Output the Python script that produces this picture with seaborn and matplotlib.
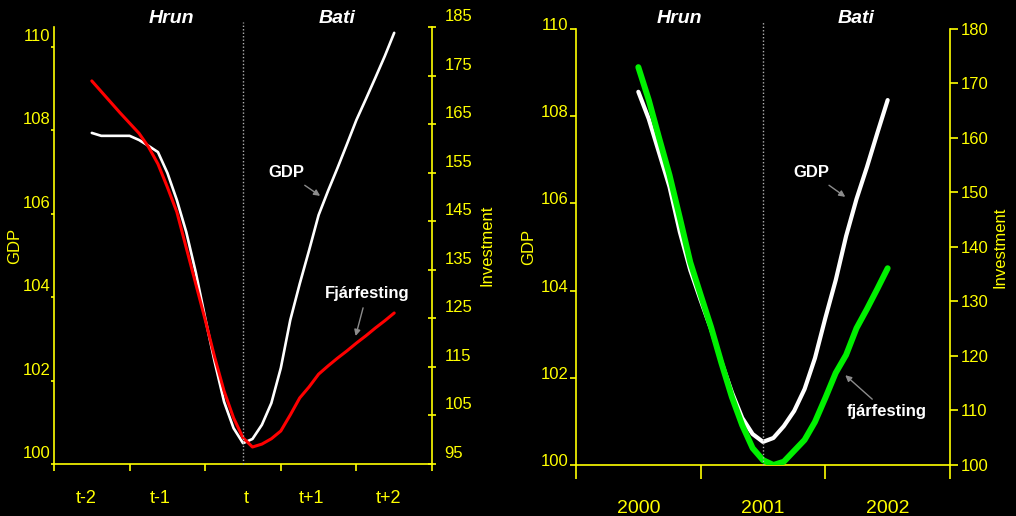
import numpy as np
import matplotlib
matplotlib.use('Agg')
import matplotlib.pyplot as plt
import matplotlib.transforms as mtrans
import seaborn as sns

# left panel: path from t-2 to t+2, eight steps per period
left_x = 0.5 + 0.125 * np.arange(33)
left_gdp = [107.94, 107.87, 107.87, 107.87, 107.87, 107.77, 107.63, 107.48, 106.98,
            106.33, 105.56, 104.60, 103.50, 102.45, 101.49, 100.86, 100.50, 100.60,
            100.94, 101.46, 102.30, 103.45, 104.32, 105.13, 105.97, 106.55, 107.10,
            107.67, 108.25, 108.75, 109.26, 109.78, 110.34]
left_inv = [173.9, 171.7, 169.5, 167.3, 165.2, 163.1, 160.3, 156.8, 152.0,
            146.9, 139.5, 132.1, 124.7, 117.0, 110.0, 104.5, 100.4, 98.5,
            99.1, 100.2, 101.8, 105.1, 108.6, 110.9, 113.5, 115.2, 116.8,
            118.3, 119.9, 121.4, 123.0, 124.5, 126.1]
left_labels = ['t-2', 't-1', 't', 't+1', 't+2']

# right panel: monthly, 2000 - 2002
right_x = 2000 + np.arange(25) / 12
right_gdp = [108.56, 107.94, 107.16, 106.38, 105.34, 104.47, 103.78, 103.12, 102.36,
             101.67, 101.08, 100.71, 100.53, 100.62, 100.89, 101.24, 101.74, 102.45,
             103.37, 104.24, 105.25, 106.10, 106.83, 107.61, 108.37]
right_inv = [173.0, 167.0, 160.0, 153.2, 145.3, 137.2, 131.2, 125.3, 118.7,
             112.5, 107.3, 103.1, 100.9, 100.0, 100.6, 102.6, 104.6, 107.9,
             112.3, 116.9, 120.2, 125.1, 128.6, 132.3, 136.1]
right_years = [2000, 2001, 2002]

YEL = '#ffff00'
ARROW = '#8c8c8c'

sns.set_theme(style='dark', rc={'axes.facecolor': 'black', 'figure.facecolor': 'black',
                                'savefig.facecolor': 'black'})
plt.rcParams['font.family'] = ['Liberation Sans', 'DejaVu Sans']

fig = plt.figure(figsize=(10.16, 5.16), dpi=100)


def px(dy):
    return mtrans.ScaledTranslation(0, dy / 100, fig.dpi_scale_trans)


def style_axes(ax, ax2):
    for a in (ax, ax2):
        a.set_facecolor('none')
        a.grid(False)
        for s in a.spines.values():
            s.set_visible(False)
    ax.spines['left'].set_visible(True)
    ax.spines['bottom'].set_visible(True)
    ax2.spines['right'].set_visible(True)
    for s in (ax.spines['left'], ax.spines['bottom'], ax2.spines['right']):
        s.set_color(YEL)
        s.set_linewidth(1.2)


# ---------------- left panel ----------------
ax1 = fig.add_axes([0.05315, 0.10078, 0.37205, 0.84690])
ax1b = ax1.twinx()
style_axes(ax1, ax1b)

sns.lineplot(x=left_x, y=left_gdp, ax=ax1, color='white', lw=1.9)
sns.lineplot(x=left_x, y=left_inv, ax=ax1b, color='#ff0000', lw=2.2)

ax1.set_xlim(0, 5)
ax1.set_ylim(100, 110.48)
ax1b.set_ylim(95, 185)
ax1.set_xticks(range(6))
ax1.set_xticklabels([])
ax1.set_xticks([0.42, 1.40, 2.54, 3.41, 4.42], minor=True)
ax1.set_xticklabels(left_labels, minor=True)
ax1.tick_params(axis='x', which='major', direction='out', length=5, width=1.2, color=YEL, bottom=True)
ax1.tick_params(axis='x', which='minor', length=0, pad=19, labelsize=13, labelcolor=YEL, bottom=True)
ax1.set_yticks(range(100, 111, 2))
ax1.tick_params(axis='y', direction='out', length=2.5, width=1.2, color=YEL, pad=0,
                labelsize=12, labelcolor=YEL, left=True)
ax1b.set_yticks(range(95, 186, 10))
ax1b.tick_params(axis='y', direction='inout', length=6, width=1.2, color=YEL, pad=6,
                 labelsize=12, labelcolor=YEL, right=True)
for t in ax1.yaxis.get_major_ticks():
    t.label1.set_transform(t.label1.get_transform() + px(12))
for t in ax1b.yaxis.get_major_ticks():
    t.label2.set_transform(t.label2.get_transform() + px(12))

ax1.set_ylabel('GDP', color=YEL, fontsize=12, va='center')
ax1.yaxis.set_label_coords(-0.103, 0.5)
ax1b.set_ylabel('Investment', color=YEL, fontsize=12, va='center')
ax1b.yaxis.set_label_coords(1.146, 0.5)

ax1b.axvline(2.5, ymin=0, ymax=1.011, color='#b0b0b0', lw=1, ls=(0, (1, 1.5)),
             clip_on=False, zorder=5)
for xt, txt in [(1.55, 'Hrun'), (3.74, 'Bati')]:
    ax1.text(xt, 1.02, txt, transform=ax1.get_xaxis_transform(), ha='center', va='center',
             color='white', fontsize=14, fontweight='bold', fontstyle='italic')

ax1.annotate('GDP', xy=(3.52, 106.43), xytext=(3.08, 106.98), color='white', fontsize=12,
             fontweight='bold', ha='center', va='center',
             arrowprops=dict(arrowstyle='-|>', color=ARROW, lw=1, mutation_scale=9, shrinkA=2, shrinkB=0))
ax1.annotate('Fjárfesting', xy=(3.99, 103.07), xytext=(4.14, 104.10), color='white', fontsize=12,
             fontweight='bold', ha='center', va='center',
             arrowprops=dict(arrowstyle='-|>', color=ARROW, lw=1, mutation_scale=9, shrinkA=3, shrinkB=0))

# ---------------- right panel ----------------
ax2 = fig.add_axes([0.56693, 0.09884, 0.36811, 0.84496])
ax2b = ax2.twinx()
style_axes(ax2, ax2b)

sns.lineplot(x=right_x, y=right_gdp, ax=ax2, color='white', lw=3.0)
sns.lineplot(x=right_x, y=right_inv, ax=ax2b, color='#00f000', lw=4.3)

ax2.set_xlim(1999.5, 2002.5)
ax2.set_ylim(100, 110)
ax2b.set_ylim(100, 180)
ax2.set_xticks([1999.5, 2000.5, 2001.5, 2002.5])
ax2.set_xticklabels([])
ax2.set_xticks(right_years, minor=True)
ax2.set_xticklabels([str(y) for y in right_years], minor=True)
ax2.tick_params(axis='x', which='major', direction='out', length=10, width=1.2, color=YEL, bottom=True)
ax2.tick_params(axis='x', which='minor', length=0, pad=25, labelsize=14, labelcolor=YEL, bottom=True)
ax2.set_yticks(range(100, 111, 2))
ax2.tick_params(axis='y', direction='out', length=4.5, width=1.2, color=YEL, pad=1,
                labelsize=12, labelcolor=YEL, left=True)
ax2b.set_yticks(range(100, 181, 10))
ax2b.tick_params(axis='y', direction='out', length=5.5, width=1.2, color=YEL, pad=2,
                 labelsize=12, labelcolor=YEL, right=True)
for t in ax2.yaxis.get_major_ticks():
    t.label1.set_transform(t.label1.get_transform() + px(5))

ax2.set_ylabel('GDP', color=YEL, fontsize=12, va='center')
ax2.yaxis.set_label_coords(-0.128, 0.5)
ax2b.set_ylabel('Investment', color=YEL, fontsize=12, va='center')
ax2b.yaxis.set_label_coords(1.134, 0.5)

ax2b.axvline(2001, ymin=0, ymax=1.016, color='#b0b0b0', lw=1, ls=(0, (1, 1.5)),
             clip_on=False, zorder=5)
for xt, txt in [(2000.33, 'Hrun'), (2001.75, 'Bati')]:
    ax2.text(xt, 1.025, txt, transform=ax2.get_xaxis_transform(), ha='center', va='center',
             color='white', fontsize=14, fontweight='bold', fontstyle='italic')

ax2.annotate('GDP', xy=(2001.66, 106.15), xytext=(2001.39, 106.70), color='white', fontsize=12,
             fontweight='bold', ha='center', va='center',
             arrowprops=dict(arrowstyle='-|>', color=ARROW, lw=1, mutation_scale=9, shrinkA=2, shrinkB=0))
ax2.annotate('fjárfesting', xy=(2001.66, 102.06), xytext=(2001.99, 101.22), color='white', fontsize=12,
             fontweight='bold', ha='center', va='center',
             arrowprops=dict(arrowstyle='-|>', color=ARROW, lw=1, mutation_scale=9, shrinkA=2, shrinkB=0))

fig.savefig('out.png', dpi=100, facecolor='black')
plt.close(fig)
